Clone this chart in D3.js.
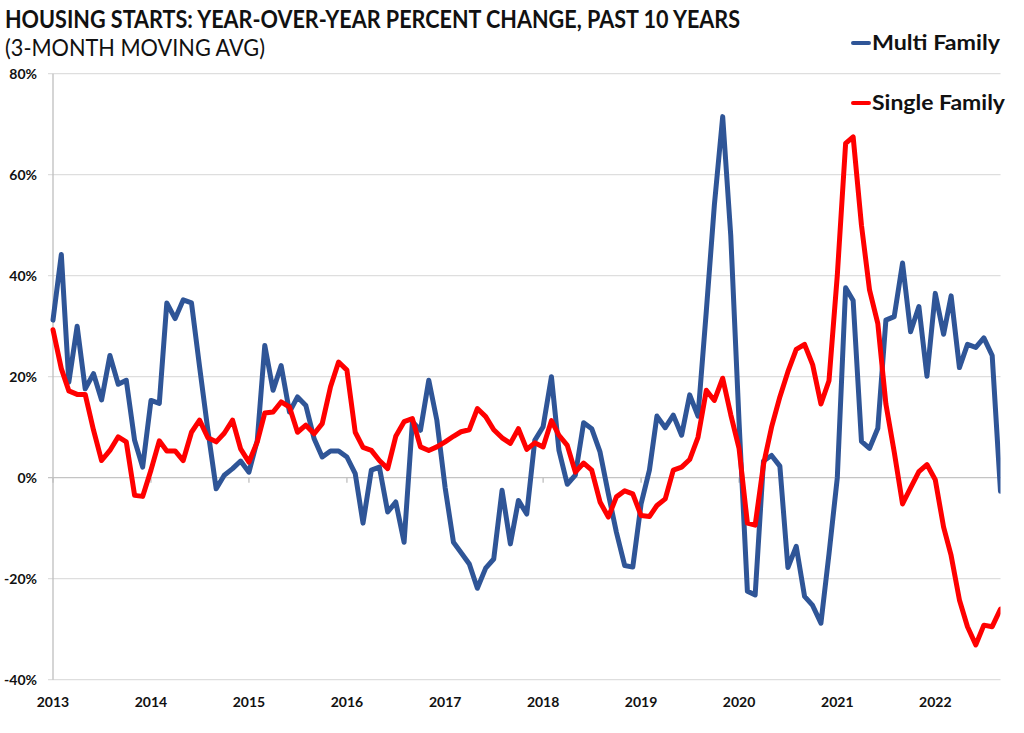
<!DOCTYPE html>
<html>
<head>
<meta charset="utf-8">
<script src="https://cdn.jsdelivr.net/npm/d3@7"></script>
<style>
  body { margin: 0; background: #fff; }
  svg { display: block; font-family: Lato, "Open Sans", sans-serif; }
</style>
</head>
<body>
<svg width="1024" height="733"></svg>
<script>
/* monthly series, Jan 2013 .. Sep 2022 (3-month moving avg, YoY %) */
var startMonth = new Date(2013, 0, 1);

var multiFamily = [
  31.2, 44.2, 18.9, 30.0, 17.6, 20.6, 15.4, 24.2, 18.5, 19.3, 7.4, 2.1,
  15.3, 14.7, 34.6, 31.5, 35.2, 34.6, 22.0, 9.4, -2.2, 0.5, 1.8, 3.3,
  1.1, 7.4, 26.2, 17.3, 22.2, 13.0, 16.0, 14.3, 7.7, 4.1, 5.3, 5.3,
  4.1, 0.8, -9.0, 1.5, 2.1, -6.8, -4.8, -12.8, 11.1, 9.4, 19.3, 11.4,
  -2.0, -12.8, -14.8, -17.1, -21.9, -17.9, -16.1, -2.5, -13.1, -4.5, -7.2, 7.4,
  10.1, 20.0, 5.4, -1.3, 0.5, 10.9, 9.7, 5.1, -3.2, -10.8, -17.4, -17.7,
  -5.2, 1.5, 12.2, 9.9, 12.4, 8.4, 16.4, 12.2, 33.0, 54.0, 71.5, 48.0,
  11.0, -22.5, -23.2, 3.3, 4.4, 2.3, -17.8, -13.6, -23.5, -25.3, -28.8, -15.1,
  0.0, 37.6, 35.1, 7.2, 5.8, 9.8, 31.2, 31.9, 42.5, 28.9, 33.9, 20.1,
  36.5, 28.4, 36.0, 21.8, 26.4, 25.8, 27.7, 24.2, -2.7
];

var singleFamily = [
  29.3, 21.6, 17.2, 16.5, 16.5, 9.4, 3.4, 5.4, 8.1, 7.1, -3.5, -3.7,
  1.5, 7.3, 5.3, 5.3, 3.4, 9.0, 11.4, 7.9, 7.1, 8.8, 11.4, 5.7,
  3.1, 7.1, 12.8, 13.0, 15.0, 14.0, 9.0, 10.4, 8.7, 10.7, 18.0, 22.9,
  21.3, 9.0, 6.0, 5.4, 3.4, 1.8, 8.2, 11.1, 11.7, 6.1, 5.4, 6.1,
  7.1, 8.2, 9.1, 9.5, 13.7, 12.1, 9.5, 7.9, 6.8, 9.7, 5.6, 6.9,
  6.1, 11.3, 8.4, 6.4, 1.1, 2.9, 1.5, -4.8, -7.8, -3.8, -2.6, -3.2,
  -7.5, -7.7, -5.5, -4.2, 1.5, 2.1, 3.6, 8.0, 17.3, 15.3, 19.7, 12.5,
  5.8, -9.0, -9.4, 2.6, 10.0, 16.0, 21.0, 25.4, 26.4, 22.4, 14.6, 19.2,
  40.1, 66.2, 67.5, 50.0, 37.2, 30.5, 14.6, 5.1, -5.2, -2.0, 1.2, 2.6,
  -0.4, -9.8, -15.4, -24.2, -29.5, -33.1, -29.2, -29.5, -26.0
];

var yTicks = [80, 60, 40, 20, 0, -20, -40];
var yearTicks = [2013, 2014, 2015, 2016, 2017, 2018, 2019, 2020, 2021, 2022];

var seriesNames = ["Multi Family", "Single Family"];
var seriesColors = ["#2F5597", "#FF0000"];

var svg = d3.select("svg");

var months = multiFamily.map(function(d, i) { return d3.timeMonth.offset(startMonth, i); });

var x = d3.scaleTime()
  .domain([months[0], months[months.length - 1]])
  .range([53, 1000.5]);
var y = d3.scaleLinear()
  .domain([-40, 80])
  .range([679.7, 73.7]);

// gridlines
svg.append("g")
  .selectAll("line")
  .data(yTicks)
  .join("line")
  .attr("x1", 48).attr("x2", 1000.5)
  .attr("y1", function(d) { return y(d); })
  .attr("y2", function(d) { return y(d); })
  .attr("stroke", function(d) { return d === 0 ? "#c4c4c4" : "#dedede"; })
  .attr("stroke-width", 1.3);

// y axis line
svg.append("line")
  .attr("x1", 53).attr("x2", 53)
  .attr("y1", y(80)).attr("y2", y(-40))
  .attr("stroke", "#bfbfbf").attr("stroke-width", 1.3);

// y labels
svg.append("g")
  .selectAll("text")
  .data(yTicks)
  .join("text")
  .attr("x", 37)
  .attr("y", function(d) { return y(d) + 5; })
  .attr("text-anchor", "end")
  .attr("font-size", 14)
  .attr("font-weight", "bold")
  .attr("fill", "#111")
  .text(function(d) { return d + "%"; });

// year ticks on the zero line
svg.append("g")
  .selectAll("line")
  .data(yearTicks)
  .join("line")
  .attr("x1", function(d) { return x(new Date(d, 0, 1)); })
  .attr("x2", function(d) { return x(new Date(d, 0, 1)); })
  .attr("y1", y(0)).attr("y2", y(0) + 5)
  .attr("stroke", "#bfbfbf").attr("stroke-width", 1.3);

// year labels at the bottom
svg.append("g")
  .selectAll("text")
  .data(yearTicks)
  .join("text")
  .attr("x", function(d) { return x(new Date(d, 0, 1)); })
  .attr("y", 707)
  .attr("text-anchor", "middle")
  .attr("font-size", 14)
  .attr("font-weight", "bold")
  .attr("fill", "#111")
  .text(function(d) { return d; });

// lines, clipped to plot area
svg.append("clipPath").attr("id", "plot")
  .append("rect")
  .attr("x", 40).attr("y", 60)
  .attr("width", 1000.5 - 40).attr("height", 640);

var line = d3.line()
  .x(function(d, i) { return x(months[i]); })
  .y(function(d) { return y(d); })
  .curve(d3.curveLinear);

var plot = svg.append("g").attr("clip-path", "url(#plot)");
[multiFamily, singleFamily].forEach(function(s, k) {
  plot.append("path")
    .attr("d", line(s))
    .attr("fill", "none")
    .attr("stroke", seriesColors[k])
    .attr("stroke-width", 5)
    .attr("stroke-linejoin", "round")
    .attr("stroke-linecap", "round");
});

// legend
var legendY = [43, 103];
seriesNames.forEach(function(name, k) {
  svg.append("line")
    .attr("x1", 853).attr("x2", 869)
    .attr("y1", legendY[k]).attr("y2", legendY[k])
    .attr("stroke", seriesColors[k])
    .attr("stroke-width", 4)
    .attr("stroke-linecap", "round");
  svg.append("text")
    .attr("x", 872)
    .attr("y", legendY[k] + 7)
    .attr("font-size", 20)
    .attr("font-weight", "bold")
    .attr("fill", "#111")
    .attr("textLength", k === 0 ? 128 : 133)
    .attr("lengthAdjust", "spacingAndGlyphs")
    .text(name);
});

// titles
svg.append("text")
  .attr("x", 5).attr("y", 28)
  .attr("font-size", 25)
  .attr("font-weight", "bold")
  .attr("fill", "#111")
  .attr("textLength", 735)
  .attr("lengthAdjust", "spacingAndGlyphs")
  .text("HOUSING STARTS: YEAR-OVER-YEAR PERCENT CHANGE, PAST 10 YEARS");

svg.append("text")
  .attr("x", 5).attr("y", 56)
  .attr("font-size", 23)
  .attr("fill", "#111")
  .attr("textLength", 260)
  .attr("lengthAdjust", "spacingAndGlyphs")
  .text("(3-MONTH MOVING AVG)");
</script>
</body>
</html>
